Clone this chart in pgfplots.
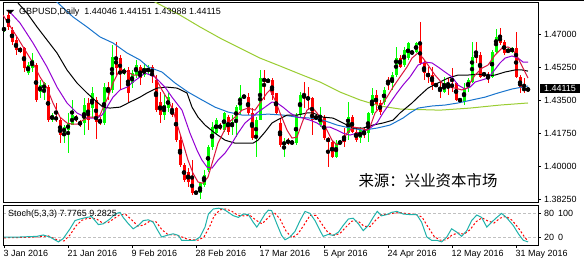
\documentclass[border=0pt]{standalone}
\usepackage{pgfplots}
\pgfplotsset{compat=1.18}
\usepackage{pgfplotstable}
\usepackage{fontspec}
\setmainfont{Liberation Sans}
\newfontfamily\cjk{Noto Sans CJK SC}
\definecolor{upc}{RGB}{0,255,0}
\definecolor{dnc}{RGB}{255,0,0}
\definecolor{maA}{RGB}{220,20,60}
\definecolor{maB}{RGB}{148,0,211}
\definecolor{maD}{RGB}{24,116,205}
\definecolor{maE}{RGB}{154,205,50}
\definecolor{stk}{RGB}{32,178,170}
\definecolor{lvl}{RGB}{192,192,192}

\pgfplotstableread{
i o h l c
0 1.4723 1.4740 1.4714 1.4732
6 1.4493 1.4555 1.4484 1.4537
7 1.4520 1.4599 1.4502 1.4564
9 1.4396 1.4458 1.4361 1.4431
10 1.4405 1.4449 1.4352 1.4440
12 1.4246 1.4281 1.4237 1.4272
15 1.4175 1.4219 1.4122 1.4210
16 1.4193 1.4281 1.4073 1.4228
17 1.4219 1.4352 1.4219 1.4272
20 1.4228 1.4361 1.4166 1.4325
22 1.4308 1.4422 1.4255 1.4387
25 1.4228 1.4440 1.4219 1.4422
27 1.4405 1.4643 1.4387 1.4582
30 1.4493 1.4520 1.4484 1.4511
32 1.4440 1.4511 1.4414 1.4493
33 1.4484 1.4564 1.4467 1.4537
35 1.4484 1.4546 1.4475 1.4520
36 1.4502 1.4537 1.4484 1.4520
40 1.4272 1.4378 1.4246 1.4325
41 1.4308 1.4387 1.4290 1.4369
48 1.3859 1.3866 1.3855 1.3862
49 1.3857 1.3919 1.3827 1.3910
50 1.3901 1.3981 1.3893 1.3954
51 1.3981 1.4113 1.3972 1.4104
52 1.4104 1.4237 1.4087 1.4210
53 1.4175 1.4255 1.4166 1.4246
55 1.4193 1.4290 1.4184 1.4281
57 1.4210 1.4272 1.4166 1.4237
58 1.4246 1.4325 1.4157 1.4316
59 1.4299 1.4431 1.4272 1.4369
60 1.4369 1.4378 1.4361 1.4371
63 1.4149 1.4263 1.4051 1.4246
64 1.4246 1.4511 1.4246 1.4467
66 1.4449 1.4467 1.4440 1.4458
70 1.4113 1.4149 1.4051 1.4131
73 1.4122 1.4281 1.4113 1.4272
74 1.4272 1.4396 1.4263 1.4378
78 1.4255 1.4272 1.4246 1.4263
79 1.4219 1.4316 1.4210 1.4272
83 1.4051 1.4140 1.4043 1.4122
84 1.4122 1.4140 1.4113 1.4131
86 1.4175 1.4343 1.4140 1.4263
89 1.4149 1.4210 1.4122 1.4193
91 1.4175 1.4290 1.4131 1.4281
92 1.4281 1.4414 1.4272 1.4378
95 1.4343 1.4422 1.4325 1.4405
97 1.4440 1.4502 1.4405 1.4484
98 1.4484 1.4635 1.4475 1.4573
100 1.4537 1.4635 1.4528 1.4617
101 1.4573 1.4661 1.4564 1.4652
102 1.4599 1.4617 1.4590 1.4608
103 1.4608 1.4661 1.4599 1.4652
108 1.4428 1.4440 1.4422 1.4434
110 1.4396 1.4475 1.4387 1.4440
114 1.4350 1.4356 1.4346 1.4353
115 1.4343 1.4440 1.4325 1.4414
116 1.4414 1.4467 1.4396 1.4458
117 1.4449 1.4661 1.4440 1.4582
122 1.4475 1.4617 1.4467 1.4608
123 1.4608 1.4726 1.4599 1.4688
126 1.4608 1.4626 1.4599 1.4617
127 1.4608 1.4635 1.4599 1.4626
131 1.44046 1.44151 1.43988 1.44115
}\upT

\pgfplotstableread{
i o h l c
1 1.4802 1.4820 1.4723 1.4740
2 1.4723 1.4740 1.4643 1.4661
3 1.4670 1.4688 1.4590 1.4617
4 1.4626 1.4635 1.4599 1.4608
5 1.4626 1.4635 1.4502 1.4520
8 1.4537 1.4546 1.4343 1.4352
11 1.4422 1.4431 1.4237 1.4246
13 1.4263 1.4334 1.4237 1.4246
14 1.4246 1.4255 1.4122 1.4166
18 1.4263 1.4272 1.4237 1.4246
19 1.4237 1.4246 1.4210 1.4219
21 1.4334 1.4361 1.4193 1.4246
23 1.4352 1.4369 1.4143 1.4237
24 1.4246 1.4263 1.4219 1.4228
26 1.4422 1.4449 1.4352 1.4396
28 1.4582 1.4661 1.4484 1.4520
29 1.4573 1.4590 1.4405 1.4493
31 1.4511 1.4528 1.4343 1.4387
34 1.4528 1.4537 1.4431 1.4467
37 1.4528 1.4537 1.4440 1.4484
38 1.4458 1.4484 1.4290 1.4299
39 1.4343 1.4396 1.4228 1.4272
42 1.4299 1.4334 1.4263 1.4272
43 1.4308 1.4316 1.4131 1.4140
44 1.4140 1.4166 1.3998 1.4007
45 1.4007 1.4016 1.3919 1.3928
46 1.3972 1.3990 1.3893 1.3919
47 1.3937 1.4034 1.3848 1.3857
54 1.4219 1.4228 1.4193 1.4202
56 1.4263 1.4272 1.4166 1.4184
61 1.4369 1.4387 1.4272 1.4281
62 1.4281 1.4308 1.4140 1.4149
65 1.4467 1.4511 1.4352 1.4449
67 1.4458 1.4467 1.4352 1.4378
68 1.4387 1.4387 1.4272 1.4281
69 1.4228 1.4255 1.4104 1.4113
71 1.4140 1.4149 1.4113 1.4122
72 1.4131 1.4140 1.4113 1.4122
75 1.4378 1.4449 1.4308 1.4361
76 1.4369 1.4422 1.4299 1.4352
77 1.4361 1.4369 1.4166 1.4246
80 1.4263 1.4272 1.4140 1.4149
81 1.4149 1.4157 1.3998 1.4131
82 1.4131 1.4140 1.4043 1.4051
85 1.4157 1.4202 1.4104 1.4131
87 1.4263 1.4272 1.4175 1.4184
88 1.4184 1.4202 1.4131 1.4140
90 1.4193 1.4202 1.4149 1.4166
93 1.4378 1.4405 1.4299 1.4325
94 1.4334 1.4352 1.4272 1.4290
96 1.4458 1.4475 1.4405 1.4440
99 1.4573 1.4590 1.4520 1.4528
104 1.4652 1.4767 1.4537 1.4546
105 1.4546 1.4564 1.4458 1.4493
106 1.4493 1.4528 1.4440 1.4475
107 1.4484 1.4528 1.4405 1.4431
109 1.4422 1.4449 1.4361 1.4401
111 1.4440 1.4467 1.4378 1.4431
112 1.4431 1.4520 1.4396 1.4426
113 1.4440 1.4449 1.4345 1.4352
118 1.4599 1.4661 1.4546 1.4573
119 1.4590 1.4608 1.4467 1.4475
120 1.4493 1.4502 1.4475 1.4484
121 1.4484 1.4502 1.4440 1.4475
124 1.4696 1.4732 1.4643 1.4652
125 1.4661 1.4670 1.4590 1.4599
128 1.4626 1.4714 1.4467 1.4475
129 1.4475 1.4484 1.4387 1.4414
130 1.4414 1.4467 1.4387 1.44046
}\dnT

\pgfplotsset{
  wick/.style={forget plot, only marks, mark=none, error bars/.cd, y dir=both, y explicit, error mark=none, error bar style={#1, line width=1bp}},
  body/.style={forget plot, only marks, mark=none, error bars/.cd, y dir=both, y explicit, error mark=none, error bar style={#1, line width=3bp}},
}

\begin{document}
\begin{tikzpicture}[x=1bp,y=1bp]
\path[use as bounding box] (0,0) rectangle (584,263);
\fill[white] (0,0) rectangle (584,263);
\draw[black, line width=1bp] (0,262.5) -- (584,262.5);

\begin{axis}[
  at={(3bp,61bp)}, anchor=south west, scale only axis,
  width=535bp, height=199bp,
  xmin=-0.25, xmax=133.5, ymin=1.38112, ymax=1.48659,
  axis line style={black, line width=1bp},
  xtick=\empty,
  ytick={1.3825,1.4,1.4175,1.435,1.4525,1.47},
  yticklabels={1.38250,1.40000,1.41750,1.43500,1.45250,1.47000},
  ytick pos=right, yticklabel pos=right,
  tick align=outside, major tick length=3bp,
  tick style={black, line width=0.7bp},
  yticklabel style={anchor=west, inner sep=0pt, xshift=3bp, font=\fontsize{9}{10}\selectfont},
  extra y ticks={1.44115},
  extra y tick labels={1.44115},
  extra y tick style={major tick length=0pt, yticklabel style={fill=black, text=white, inner xsep=4bp, inner ysep=1.5bp, xshift=-1bp}},
]
% up candles
\addplot[wick=upc] table[x=i, y expr={(\thisrow{h}+\thisrow{l})/2}, y error expr={(\thisrow{h}-\thisrow{l})/2}] {\upT};
\addplot[body=upc] table[x=i, y expr={(\thisrow{o}+\thisrow{c})/2}, y error expr={max(abs(\thisrow{c}-\thisrow{o})/2,0.0003)}] {\upT};
% down candles
\addplot[wick=dnc] table[x=i, y expr={(\thisrow{h}+\thisrow{l})/2}, y error expr={(\thisrow{h}-\thisrow{l})/2}] {\dnT};
\addplot[body=dnc] table[x=i, y expr={(\thisrow{o}+\thisrow{c})/2}, y error expr={max(abs(\thisrow{c}-\thisrow{o})/2,0.0003)}] {\dnT};

% long MA (yellow-green)
\addplot[maE, line width=1bp, mark=none] coordinates {
(31.5,1.4935) (37.75,1.4871) (44,1.4802) (49,1.4739) (54,1.4680) (59,1.4627) (64,1.4574) (69,1.4532) (74,1.4489) (79,1.4447) (84,1.4394) (89,1.4352) (94,1.4320) (99,1.4304) (109,1.4298) (116.5,1.4309) (124,1.4325) (131,1.4336)};
% blue MA
\addplot[maD, line width=1bp, mark=none] coordinates {
(10.25,1.4924) (13.5,1.4866) (17.25,1.4792) (20.75,1.4739) (24,1.4686) (27.25,1.4654) (30.75,1.4601) (34,1.4564) (36,1.4527) (39.5,1.4500) (42.75,1.4442) (46,1.4394) (49.5,1.4352) (52.75,1.4314) (56,1.4288) (59.5,1.4272) (62.75,1.4272) (66,1.4277) (69.75,1.4272) (73.25,1.4261) (76.5,1.4256) (79.75,1.4245) (83.25,1.4219) (86.5,1.4203) (89.75,1.4192) (93.25,1.4203) (96.5,1.4219) (99.75,1.4256) (101.5,1.4283) (103.5,1.4309) (107,1.4320) (110.25,1.4325) (113.5,1.4336) (117,1.4352) (120.25,1.4367) (123.5,1.4389) (127,1.4410) (131,1.4426)};
% black MA
\addplot[black, line width=1bp, mark=none] coordinates {
(1.5,1.4924) (3.5,1.4866) (5.75,1.4813) (8.25,1.4739) (10.75,1.4670) (13.25,1.4601) (15.75,1.4511) (18.25,1.4442) (20.75,1.4389) (23.25,1.4341) (24.75,1.4314) (26.5,1.4309) (29,1.4314) (31.5,1.4341) (34,1.4367) (35.75,1.4389) (38.25,1.4415) (40.75,1.4420) (43.25,1.4415) (45.75,1.4389) (47,1.4314) (48.5,1.4261) (50.25,1.4219) (52.75,1.4176) (55.25,1.4139) (57.75,1.4123) (60.25,1.4123) (62.25,1.4123) (63.5,1.4139) (65.25,1.4182) (67,1.4230) (68.25,1.4245) (70.75,1.4272) (73.25,1.4272) (75.75,1.4283) (77.25,1.4283) (79.75,1.4261) (82.25,1.4256) (84.75,1.4230) (87.25,1.4203) (89.75,1.4203) (92.25,1.4219) (94.75,1.4230) (97.25,1.4245) (99,1.4283) (100.75,1.4314) (102,1.4336) (103.5,1.4367) (106,1.4415) (108.5,1.4442) (111,1.4468) (113.5,1.4484) (116,1.4484) (118.5,1.4489) (121,1.4479) (122.75,1.4484) (125.25,1.4500) (127.75,1.4511) (129.5,1.4511) (131,1.4505)};
% purple MA
\addplot[maB, line width=1bp, mark=none] coordinates {
(1,1.4829) (4,1.4760) (7.25,1.4654) (10.75,1.4527) (13.25,1.4420) (15.75,1.4336) (18.25,1.4283) (20.75,1.4256) (23.25,1.4256) (24.5,1.4272) (25.75,1.4314) (27.25,1.4367) (29,1.4405) (30.75,1.4420) (32.25,1.4447) (34,1.4474) (35.25,1.4495) (37.75,1.4474) (40.25,1.4420) (42,1.4367) (44.5,1.4298) (46.5,1.4176) (48.25,1.4086) (49.5,1.4033) (50.75,1.3996) (52,1.3991) (53.5,1.4033) (55.25,1.4070) (57,1.4123) (58.5,1.4176) (60.25,1.4230) (62,1.4261) (63.5,1.4288) (65.25,1.4314) (67,1.4341) (68.25,1.4336) (69.75,1.4314) (71.5,1.4283) (73.25,1.4261) (74.75,1.4256) (76.5,1.4245) (78.25,1.4230) (79.75,1.4208) (81.5,1.4208) (83.25,1.4192) (84.75,1.4176) (86.5,1.4166) (88.25,1.4176) (89.75,1.4182) (91.5,1.4203) (93.25,1.4230) (94.75,1.4283) (96.5,1.4336) (98.25,1.4389) (99.75,1.4431) (101.5,1.4474) (103.5,1.4537) (105.25,1.4553) (107,1.4548) (108.5,1.4527) (110.25,1.4500) (112,1.4474) (113.5,1.4431) (115.25,1.4410) (116.5,1.4420) (117.75,1.4447) (119.5,1.4458) (121,1.4468) (122.25,1.4500) (124,1.4548) (125.25,1.4574) (127,1.4585) (128.5,1.4574) (129.75,1.4553) (131,1.4553)};
% crimson MA
\addplot[maA, line width=1bp, mark=none] coordinates {
(-0.25,1.4802) (3.25,1.4686) (5.25,1.4617) (7.25,1.4548) (9,1.4474) (10.75,1.4415) (12.25,1.4336) (14,1.4261) (15.75,1.4230) (17,1.4224) (18.5,1.4224) (19.75,1.4245) (21.5,1.4261) (23.25,1.4261) (24,1.4272) (24.75,1.4309) (26,1.4367) (27.25,1.4442) (28.5,1.4495) (29.75,1.4511) (31,1.4500) (32.25,1.4484) (34,1.4484) (34.5,1.4500) (36.5,1.4511) (37.75,1.4474) (39.5,1.4405) (41,1.4352) (42.25,1.4298) (43.5,1.4208) (44.75,1.4123) (46,1.4033) (47.25,1.3964) (48.5,1.3917) (49.75,1.3911) (51,1.3943) (52.25,1.4033) (53.5,1.4123) (54.75,1.4176) (56,1.4230) (57.75,1.4261) (59.5,1.4298) (61,1.4309) (62.75,1.4298) (64,1.4336) (65.75,1.4389) (66.5,1.4405) (68,1.4341) (69,1.4283) (70.75,1.4192) (72,1.4150) (73.25,1.4155) (74.5,1.4230) (75.75,1.4298) (77,1.4314) (78.25,1.4283) (79.5,1.4245) (80.75,1.4192) (82,1.4139) (83.25,1.4113) (84.5,1.4129) (85.75,1.4176) (87.25,1.4208) (89,1.4203) (90.75,1.4192) (91.5,1.4208) (92.75,1.4283) (94,1.4314) (95.75,1.4367) (97.25,1.4420) (99,1.4474) (100.75,1.4527) (102,1.4574) (103.5,1.4601) (104.75,1.4574) (106,1.4537) (107.75,1.4484) (109.5,1.4442) (111,1.4420) (112.75,1.4415) (114.5,1.4405) (115.75,1.4415) (116.5,1.4442) (117.75,1.4484) (119.5,1.4521) (121,1.4537) (122.75,1.4590) (124.5,1.4627) (126,1.4633) (127.25,1.4617) (128.5,1.4574) (129.75,1.4521) (131,1.4468)};
\end{axis}

\begin{axis}[
  at={(3bp,18bp)}, anchor=south west, scale only axis,
  width=535bp, height=40bp,
  xmin=-0.25, xmax=133.5, ymin=0, ymax=100,
  axis line style={black, line width=1bp},
  xtick={0,16,32,48,64,80,96,112,128},
  xticklabels={3 Jan 2016,21 Jan 2016,9 Feb 2016,28 Feb 2016,17 Mar 2016,5 Apr 2016,24 Apr 2016,12 May 2016,31 May 2016},
  xtick pos=bottom, xticklabel pos=bottom,
  ytick={20,80}, yticklabels={20,80},
  ytick pos=right, yticklabel pos=right,
  tick align=outside, major tick length=3bp,
  tick style={black, line width=0.7bp},
  xticklabel style={anchor=north west, inner sep=0pt, xshift=-0.5bp, yshift=-2bp, font=\fontsize{9}{10}\selectfont},
  yticklabel style={anchor=west, inner sep=0pt, xshift=3bp, font=\fontsize{9}{10}\selectfont},
  ymajorgrids, major grid style={lvl, dash pattern=on 3bp off 2bp, line width=0.8bp},
  clip mode=individual,
]
\addplot[red, line width=1bp, dash pattern=on 2bp off 2bp, mark=none] coordinates {
(0,18) (5,19) (9.5,21) (11,23) (13,14) (15,10) (16.5,25) (18,48) (19.5,62) (21,67) (23,66) (24.5,56) (26,56) (27.5,66) (29,76) (30.5,76) (32,62) (33.5,47) (35,50) (36.5,60) (38,58) (39.5,38) (41,26) (43,25) (44.5,20) (46,14) (48.5,12) (50,20) (51.5,48) (52.5,72) (54,88) (55.5,90) (57,84) (58.5,74) (60,73) (61.5,74) (63,62) (64.5,53) (66,68) (67.5,82) (69,65) (70.5,35) (72,18) (73.5,28) (75,50) (76.5,74) (78,74) (79.5,52) (81,31) (82.5,24) (84,29) (85.5,45) (87,60) (88.5,60) (90,47) (91.5,46) (93,63) (94.5,76) (96,77) (97.5,80) (99,81) (101,78) (103,76) (104.5,70) (106,45) (107.5,22) (109,12) (110.5,13) (112,25) (113.5,30) (115,27) (116.5,38) (118,58) (119.5,68) (121,60) (122.5,55) (124,67) (125.5,72) (127,62) (128.5,44) (130,22) (131,9.28)};
\addplot[stk, line width=1bp, mark=none] coordinates {
(0,20) (4,20) (8.2,21.6) (9.8,25) (11.5,20) (13.6,7.7) (14.8,16) (16.5,40.5) (17.75,61) (19,65) (20.7,69) (21.9,71) (22.75,61) (23.6,51) (24.8,53) (26.5,65) (27.75,77.5) (29,81.6) (29.8,69) (31.1,53) (32.3,40.5) (33.6,49) (34.8,61) (36.1,63) (37.3,57) (38.2,40.5) (39.4,20) (40.7,24) (42.3,28) (43.6,24) (44.4,11.8) (47.75,11.8) (49,20) (50.25,44.7) (51.1,77.5) (52.3,90) (53.6,92) (54.8,90) (56.1,81.6) (57.3,73.4) (58.6,69) (59.8,77.5) (61.1,76) (62.3,57) (63.2,44.7) (64,57) (65.25,77.5) (66.1,87) (66.9,86) (68.2,53) (69.4,24) (70.25,13) (71.5,20) (72.75,34) (74,61) (75.25,84) (76.5,79) (77.75,61) (79,36) (79.8,21.6) (81.1,26.6) (82.3,24) (83.6,32) (84.8,49) (86.1,65) (87.3,67) (88.6,53) (89.8,36) (91.1,49) (92.3,69) (93.3,84) (94.4,73) (95.7,76) (96.9,81.6) (98.2,84) (99.8,77.5) (101.5,76) (103.2,76) (104.4,57) (105.7,20) (106.9,11.8) (108.2,11.8) (109.4,7.7) (110.7,20) (111.9,40.5) (113.2,32) (114.4,21.6) (115.7,36) (116.9,61) (118.2,75) (119.4,69) (120.7,44.7) (121.9,57) (123.2,69) (124.4,79) (125.7,67.7) (127.3,49) (128.6,28) (129.8,11.8) (131,7.78)};
\node[anchor=west, inner sep=0pt, xshift=20bp, font=\fontsize{9}{10}\selectfont] at (rel axis cs:1,0.8) {100};
\node[anchor=west, inner sep=0pt, xshift=20bp, font=\fontsize{9}{10}\selectfont] at (rel axis cs:1,0.2) {0};
\end{axis}

\fill[black] (6,253) -- (14,253) -- (10,249) -- cycle;
\node[anchor=west, inner sep=0pt, font=\fontsize{9}{10}\selectfont] at (19,250.7) {GBPUSD,Daily\ \ 1.44046 1.44151 1.43988 1.44115};
\node[anchor=west, inner sep=0pt, font=\fontsize{9}{10}\selectfont] at (8,49) {Stoch(5,3,3) 7.7765 9.2825};
\node[inner sep=0pt, font=\cjk\fontsize{15.5}{16}\selectfont] at (428,82) {来源：兴业资本市场};
\end{tikzpicture}
\end{document}
